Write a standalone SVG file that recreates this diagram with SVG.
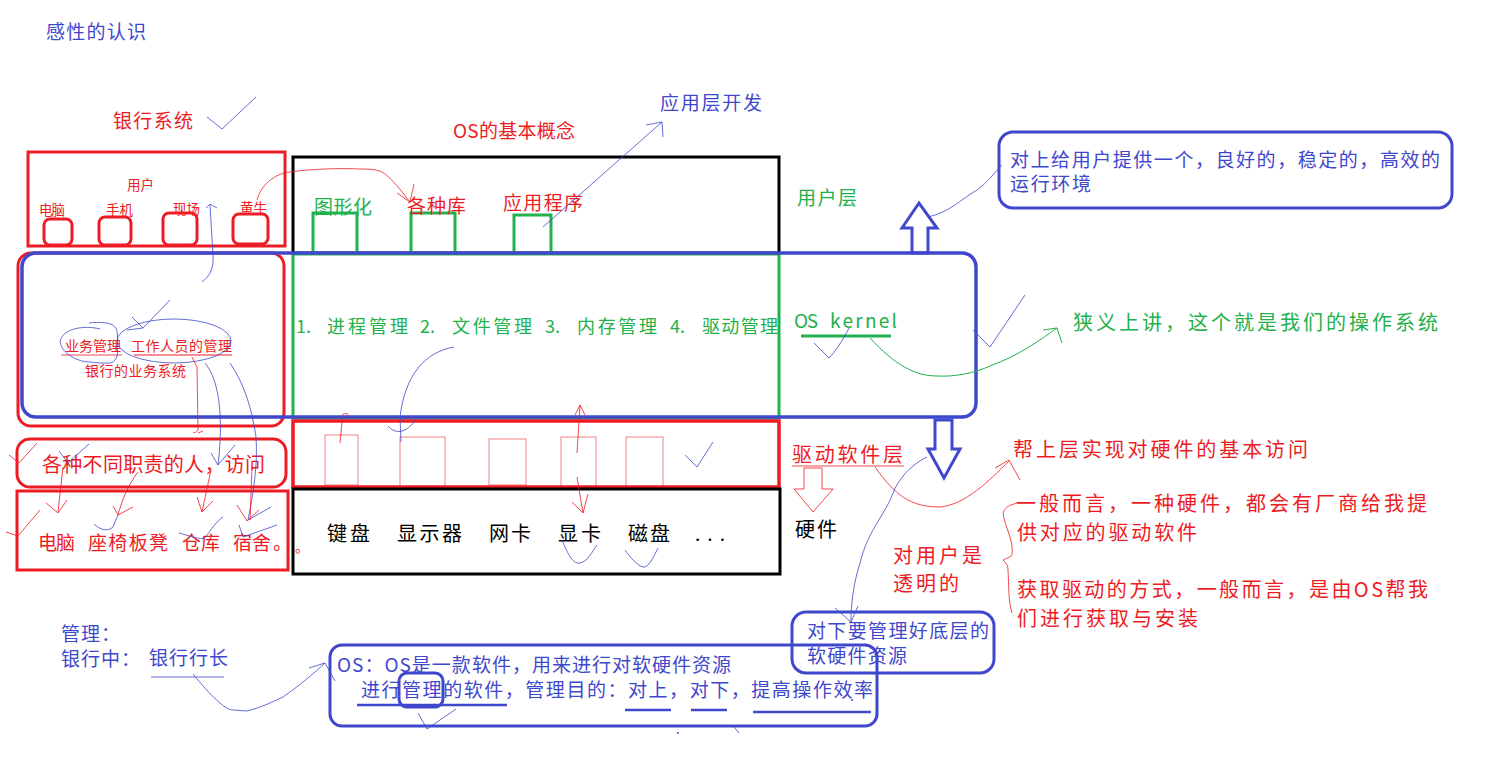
<svg xmlns="http://www.w3.org/2000/svg" width="1489" height="763" viewBox="0 0 1489 763">
<style>
text{font-family:"Noto Sans CJK SC","Liberation Sans",sans-serif;font-size:19px;white-space:pre}
.r{fill:#ed1c24}.b{fill:#3f48cc}.g{fill:#22b14c}.k{fill:#000}
.s{font-size:13.5px}.m{font-size:14px}.w{font-size:20px}
rect,polygon,path,line,ellipse{fill:none}
.rb{stroke:#ed1c24;stroke-width:3}.bb{stroke:#3f48cc;stroke-width:3}.gb{stroke:#22b14c;stroke-width:3}.kb{stroke:#000;stroke-width:3}
.rt{stroke:#ed1c24;stroke-width:1;opacity:.8}.bt{stroke:#3f48cc;stroke-width:1;opacity:.8}.gt{stroke:#22b14c;stroke-width:1}
.bg{fill:#fff}
</style>
<rect class="bg" width="1489" height="763" style="fill:#fff"/>
<g id="title"><text class="b" x="46" y="39" textLength="100">感性的认识</text></g>
<g id="bank-title"><text class="r" x="113" y="128" textLength="80">银行系统</text></g>
<g id="os-title"><text class="r" x="453" y="138" textLength="122">OS的基本概念</text></g>
<g id="app-dev"><text class="b" x="660" y="110" textLength="102">应用层开发</text></g>

<g id="bank-users">
<rect class="rb" x="28" y="152" width="257" height="94"/>
<rect class="rb" x="44" y="219" width="28" height="26" rx="6"/>
<rect class="rb" x="99" y="217" width="32" height="28" rx="6"/>
<rect class="rb" x="163" y="213" width="34" height="32" rx="6"/>
<rect class="rb" x="233" y="214" width="35" height="30" rx="6"/>
<text class="r s" x="127" y="190" textLength="27">用户</text>
<text class="r s" x="39" y="215" textLength="26">电脑</text>
<text class="r s" x="106" y="215" textLength="27">手机</text>
<text class="r s" x="173" y="214" textLength="27">现场</text>
<text class="r s" x="240" y="213" textLength="27">黄牛</text>
</g>
<g id="bank-business">
<rect class="rb" x="18" y="253" width="266" height="173" rx="13"/>
<text class="r m" x="65" y="351" textLength="56">业务管理</text>
<text class="r m" x="131" y="351" textLength="101">工作人员的管理</text>
<text class="r m" x="85" y="376" textLength="101">银行的业务系统</text>
<path class="rt" d="M61 355H122"/><path class="rb" style="stroke-width:1" d="M134 355H232"/>
</g>
<g id="bank-staff">
<rect class="rb" x="17" y="439" width="269" height="48" rx="13"/>
<text class="r w" x="42" y="472" textLength="223">各种不同职责的人，访问</text>
</g>
<g id="bank-assets">
<rect class="rb" x="17" y="491" width="271" height="79"/>
<text class="r" x="38" y="550" textLength="37">电脑</text>
<text class="r" x="88" y="550" textLength="80">座椅板凳</text>
<text class="r" x="182" y="550" textLength="38">仓库</text>
<text class="r" x="233" y="550" textLength="38">宿舍</text>
<text class="r" x="273" y="550">。</text>
</g>

<g id="user-layer">
<rect class="kb" x="293" y="157" width="486" height="96"/>
<rect class="gb" x="313" y="213" width="44" height="40"/>
<rect class="gb" x="411" y="213" width="44" height="40"/>
<rect class="gb" x="514" y="215" width="37" height="38"/>
<text class="g" x="314" y="214" textLength="58">图形化</text>
<text class="r" x="407" y="213" textLength="59">各种库</text>
<text class="r" x="503" y="210" textLength="80">应用程序</text>
<text class="g" x="797" y="205" textLength="60">用户层</text>
</g>
<g id="kernel-layer">
<rect class="gb" x="293" y="254" width="486" height="164"/>
<text class="g" x="296" y="333" style="font-size:18px">1.</text>
<text class="g" x="327" y="333" style="font-size:18px" textLength="81">进程管理</text>
<text class="g" x="420" y="333" style="font-size:18px">2.</text>
<text class="g" x="452" y="333" style="font-size:18px" textLength="80">文件管理</text>
<text class="g" x="545" y="333" style="font-size:18px">3.</text>
<text class="g" x="577" y="333" style="font-size:18px" textLength="80">内存管理</text>
<text class="g" x="670" y="333" style="font-size:18px">4.</text>
<text class="g" x="702" y="333" style="font-size:18px" textLength="76">驱动管理</text>
<text class="g" x="794" y="328" textLength="24">OS</text>
<text class="g" x="830" y="328" textLength="67">kernel</text>
<path class="gb" d="M801 336H891"/>
</g>
<g id="driver-layer">
<rect class="rb" x="293" y="421" width="486" height="66" style="stroke-width:3.5"/>
<g style="opacity:.7">
<rect class="rt" x="325" y="435" width="33" height="50"/>
<rect class="rt" x="400" y="437" width="45" height="50"/>
<rect class="rt" x="489" y="439" width="37" height="46"/>
<rect class="rt" x="561" y="437" width="35" height="51"/>
<rect class="rt" x="626" y="437" width="37" height="51"/>
</g>
<text class="r w" x="792" y="462" textLength="111">驱动软件层</text>
<path class="rt" d="M792 466H904"/>
</g>
<g id="hardware-layer">
<rect class="kb" x="293" y="489" width="487" height="85"/>
<text class="r" x="295" y="552" style="font-size:14px">。</text>
<text class="k w" x="327" y="541" textLength="43">键盘</text>
<text class="k w" x="397" y="541" textLength="65">显示器</text>
<text class="k w" x="489" y="541" textLength="42">网卡</text>
<text class="k w" x="558" y="541" textLength="43">显卡</text>
<text class="k w" x="628" y="541" textLength="42">磁盘</text>
<text class="k" x="695" y="541" textLength="30">...</text>
<text class="k w" x="795" y="537" textLength="42">硬件</text>
</g>

<g id="kernel-box"><rect class="bb" x="22" y="253" width="954" height="164" rx="14" style="stroke-width:3.5"/></g>
<g id="up-arrow"><polygon class="bb" points="919,203 902,228 912,228 912,253 928,253 928,228 937,228"/></g>
<g id="down-arrow"><polygon class="bb" points="935,420 952,420 952,449 960,449 944,478 928,449 935,449"/></g>
<g id="hw-arrow"><polygon class="rt" points="804,468 822,468 822,489 833,489 813,512 794,489 804,489"/></g>

<g id="callout-up">
<rect class="bb" x="999" y="132" width="453" height="76" rx="14"/>
<text class="b" x="1010" y="167" textLength="430">对上给用户提供一个，良好的，稳定的，高效的</text>
<text class="b" x="1010" y="191" textLength="81">运行环境</text>
</g>
<g id="callout-narrow"><text class="g w" x="1073" y="330" textLength="365">狭义上讲，这个就是我们的操作系统</text></g>
<g id="callout-driver">
<text class="r w" x="1013" y="457" textLength="295">帮上层实现对硬件的基本访问</text>
<text class="r w" x="1016" y="511" textLength="411">一般而言，一种硬件，都会有厂商给我提</text>
<text class="r w" x="1017" y="540" textLength="180">供对应的驱动软件</text>
<text class="r w" x="1017" y="597" textLength="411">获取驱动的方式，一般而言，是由OS帮我</text>
<text class="r w" x="1017" y="626" textLength="181">们进行获取与安装</text>
</g>
<g id="callout-transparent">
<text class="r w" x="893" y="563" textLength="89">对用户是</text>
<text class="r w" x="893" y="591" textLength="66">透明的</text>
</g>
<g id="callout-down">
<rect class="bb" x="792" y="612" width="202" height="61" rx="14"/>
<text class="b" x="807" y="638" textLength="182">对下要管理好底层的</text>
<text class="b" x="807" y="663" textLength="100">软硬件资源</text>
</g>
<g id="manage-note">
<text class="b" x="61" y="641" style="letter-spacing:1px">管理：</text>
<text class="b" x="61" y="666" style="letter-spacing:1px">银行中：</text>
<text class="b" x="149" y="665" textLength="79">银行行长</text>
<path class="bt" d="M151 677H224"/>
</g>
<g id="os-def">
<rect class="bb" x="330" y="645" width="547" height="81" rx="12"/>
<rect class="bb" x="399" y="673" width="44" height="34" rx="8"/>
<text class="b" x="337" y="672" textLength="394">OS：OS是一款软件，用来进行对软硬件资源</text>
<text class="b" x="361" y="697" textLength="512">进行管理的软件，管理目的：对上，对下，提高操作效率</text>
<path class="bb" style="stroke-width:2.5" d="M357 705H507M625 710H671M691 710H727M753 712H871"/>
</g>

<g id="connectors">
<path class="bt" d="M207 117L222 129L256 97"/>
<path class="rt" d="M257 200C262 182 278 173 290 172C310 169 340 168 360 169C372 169 378 170 382 172C392 178 402 192 410 202M397 193L410 202L414 184"/>
<path class="bt" d="M543 227L662 122M646 125L662 122L663 137"/>
<path class="bt" d="M202 282C210 276 214 268 213 255C212 240 211 222 210 205M206 208L210 204L217 208"/>
<path class="bt" d="M170 300L143 328M132 317L143 328L127 330"/>
<path class="bt" d="M100 329C85 325 62 328 60 342C62 354 78 362 90 362C100 363 110 364 113 362C118 358 118 352 117 347C118 338 118 330 115 327C112 322 98 322 89 323"/>
<ellipse class="bt" cx="174" cy="341" rx="57" ry="22"/>
<path class="rt" d="M192 357L197 367L198 430C196 433 194 433 193 432M198 433L203 431"/>
<path class="bt" d="M205 363C212 372 218 385 220 413C221 430 220 450 218 465M211 453L218 465L235 445"/>
<path class="bt" d="M230 363C245 385 252 410 256 437C258 465 253 495 248 520L271 507M239 525L243 537L277 525"/>
<path class="rt" d="M9 455L19 463L37 443M6 532L18 536L40 510"/>
<path class="bt" d="M59 451L68 463L89 444"/>
<path class="rt" d="M63 467L58 512M46 503L58 513L67 500"/>
<path class="rt" d="M138 472C128 485 122 500 118 515M113 506L118 515L133 507"/>
<path class="bt" d="M94 524C100 530 108 532 113 527L118 515"/>
<path class="rt" d="M211 470L202 512M197 497L202 512L213 501"/>
<path class="bt" d="M179 533C190 536 200 540 205 538C212 528 216 522 223 517"/>
<path class="rt" d="M252 467L250 520M237 505L247 521L259 510"/>
<path class="rt" d="M340 443L342 422C338 412 350 412 348 416"/>
<path class="bt" d="M454 347C425 352 405 375 400 417L401 442M388 426C394 433 405 436 417 418"/>
<path class="rt" d="M577 453L580 405M575 415L580 405L585 415M577 477L583 513M572 502L583 513L588 494"/>
<path class="bt" d="M685 455L697 467L713 442"/>
<path class="bt" d="M562 540C570 560 575 564 580 563C587 562 592 552 597 545M625 550C632 560 640 568 645 567C650 565 654 556 658 548"/>
<path class="bt" d="M928 217C950 212 960 200 977 190C988 182 995 172 1002 165"/>
<path class="bt" d="M814 343L829 358C835 352 843 340 849 328"/>
<path class="bt" d="M973 330L990 347L1025 295"/>
<path class="gt" d="M870 338C895 365 915 376 937 376C955 377 975 373 990 366C1020 355 1040 340 1057 328M1043 330L1057 328L1062 343"/>
<path class="rt" d="M875 467C895 495 910 507 940 507C965 505 990 480 1009 461M995 468L1009 460L1020 480"/>
<path class="bt" d="M927 457C910 465 898 480 893 493C885 515 868 530 860 563C853 585 851 605 851 622M835 608L851 622L858 606"/>
<path class="rt" d="M1017 503C1012 505 1006 505 1003 513C1005 528 1014 540 1012 555C1010 558 1006 558 1003 560C1006 563 1008 565 1008 570C1009 585 1008 600 1012 613"/>
<path class="bt" d="M193 674C210 695 225 710 233 710L247 711C260 708 270 703 283 697C300 685 312 675 325 663M309 668L325 663L335 681"/>
<path class="bt" d="M418 713L427 729L456 709"/>
<path class="bt" d="M734 727L739 733"/>
<circle cx="852" cy="700" r="1" style="fill:#3f48cc"/>
<circle cx="678" cy="733" r="1" style="fill:#3f48cc"/>
</g>
</svg>
